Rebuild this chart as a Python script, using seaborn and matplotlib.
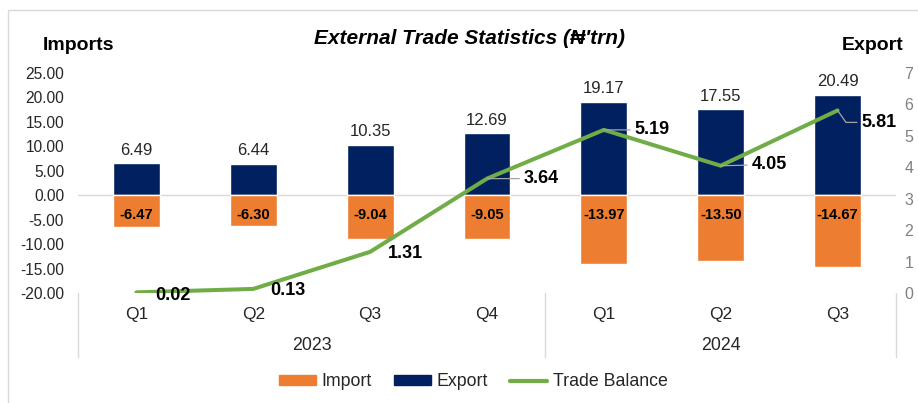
import matplotlib
matplotlib.use('Agg')
import matplotlib.pyplot as plt
import matplotlib.patches as mpatches
from matplotlib.lines import Line2D
import seaborn as sns
import pandas as pd

quarters = ['Q1', 'Q2', 'Q3', 'Q4', 'Q1', 'Q2', 'Q3']
years = ['2023', '2024']
year_spans = [(0, 3), (4, 6)]
exports = [6.49, 6.44, 10.35, 12.69, 19.17, 17.55, 20.49]
imports = [-6.47, -6.30, -9.04, -9.05, -13.97, -13.50, -14.67]
balance = [0.02, 0.13, 1.31, 3.64, 5.19, 4.05, 5.81]

# label offsets for trade balance (pixels), and whether a leader line is drawn
tb_offsets = [(19, -3), (17, -2), (18, -2), (37, 0), (31, 0), (31, 1), (24, -12)]
tb_leader = [False, False, False, True, True, True, True]

ORANGE = '#ED7D31'
NAVY = '#002060'
GREEN = '#70AD47'

df = pd.DataFrame({'idx': range(len(quarters)), 'quarter': quarters,
                   'Export': exports, 'Import': imports, 'Balance': balance})

sns.set_style('white')
plt.rcParams['font.family'] = ['Liberation Sans', 'DejaVu Sans']

fig = plt.figure(figsize=(9.18, 4.03), dpi=100)
ax = fig.add_axes([78 / 918, 1 - 293 / 403, (896 - 78) / 918, 220 / 403])

sns.barplot(data=df, x='idx', y='Export', color=NAVY, width=0.4, saturation=1, ax=ax)
sns.barplot(data=df, x='idx', y='Import', color=ORANGE, width=0.4, saturation=1, ax=ax)

ax.set_ylim(-20, 25)
ax.set_xlim(-0.5, len(quarters) - 0.5)
ax.set_yticks(range(-20, 26, 5))
ax.set_yticklabels([f'{v:.2f}' for v in range(-20, 26, 5)], fontsize=11.2, color='#262626')
ax.set_xticks(range(len(quarters)))
ax.set_xticklabels(quarters, fontsize=12.5, color='#262626')
ax.tick_params(axis='y', length=0, pad=10)
ax.tick_params(axis='x', length=0, pad=10)
ax.set_xlabel('')
ax.set_ylabel('')
for s in ax.spines.values():
    s.set_visible(False)
ax.axhline(0, color='#d9d9d9', lw=1, zorder=0)

# export values above the bars
ax.bar_label(ax.containers[0], labels=[f'{v:.2f}' for v in exports],
             padding=4, fontsize=12, color='#262626')
# import values inside the bars
for i, v in enumerate(imports):
    ax.annotate(f'{v:.2f}', xy=(i, 0), xytext=(0, -20), textcoords='offset pixels',
                ha='center', va='center', fontsize=10.5, fontweight='bold', color='black')

# category separators and year labels
for xb in [-0.5, 3.5, 6.5]:
    ax.add_line(Line2D([xb, xb], [0, -0.29], transform=ax.get_xaxis_transform(),
                       color='#d9d9d9', lw=1, clip_on=False))
for yr, (a, b) in zip(years, year_spans):
    ax.text((a + b) / 2, -0.24, yr, transform=ax.get_xaxis_transform(),
            ha='center', va='center', fontsize=12.8, color='#262626')

ax2 = ax.twinx()
sns.lineplot(data=df, x='idx', y='Balance', color=GREEN, lw=2.9, ax=ax2)
ax2.set_ylim(0, 7)
ax2.set_yticks(range(0, 8))
ax2.set_yticklabels([str(v) for v in range(0, 8)], fontsize=11.5, color='#808080')
ax2.tick_params(axis='y', length=0, pad=6)
ax2.set_ylabel('')
for s in ax2.spines.values():
    s.set_visible(False)

for i, v in enumerate(balance):
    arrow = dict(arrowstyle='-', color='#a6a6a6', lw=0.9, shrinkA=1, shrinkB=0) if tb_leader[i] else None
    if i == len(balance) - 1:
        arrow['connectionstyle'] = 'angle,angleA=0,angleB=-55,rad=0'
    ax2.annotate(f'{v:.2f}', xy=(i, v), xytext=tb_offsets[i], textcoords='offset pixels',
                 ha='left', va='center', fontsize=13, fontweight='bold', color='black',
                 arrowprops=arrow)

fig.text(469 / 918, 1 - 38 / 403, "External Trade Statistics (₦'trn)", ha='center', va='center',
         fontsize=15, fontweight='bold', fontstyle='italic', color='black')
fig.text(79 / 918, 1 - 46 / 403, 'Imports', ha='center', va='center',
         fontsize=14, fontweight='bold', color='black')
fig.text(873 / 918, 1 - 46 / 403, 'Export', ha='center', va='center',
         fontsize=14, fontweight='bold', color='black')

handles = [mpatches.Patch(color=ORANGE, label='Import'),
           mpatches.Patch(color=NAVY, label='Export'),
           Line2D([], [], color=GREEN, lw=3, label='Trade Balance')]
fig.legend(handles=handles, loc='center', bbox_to_anchor=(473 / 918, 1 - 382 / 403), ncol=3,
           frameon=False, fontsize=12.8, handlelength=2.1, handleheight=0.5, columnspacing=1.25,
           handletextpad=0.3)

fig.patches.append(mpatches.Rectangle((8 / 918, -0.1), 1.2, 1.1 - 10 / 403, transform=fig.transFigure,
                                      fill=False, edgecolor='#d9d9d9', lw=1))

fig.savefig('out.png', dpi=100)
